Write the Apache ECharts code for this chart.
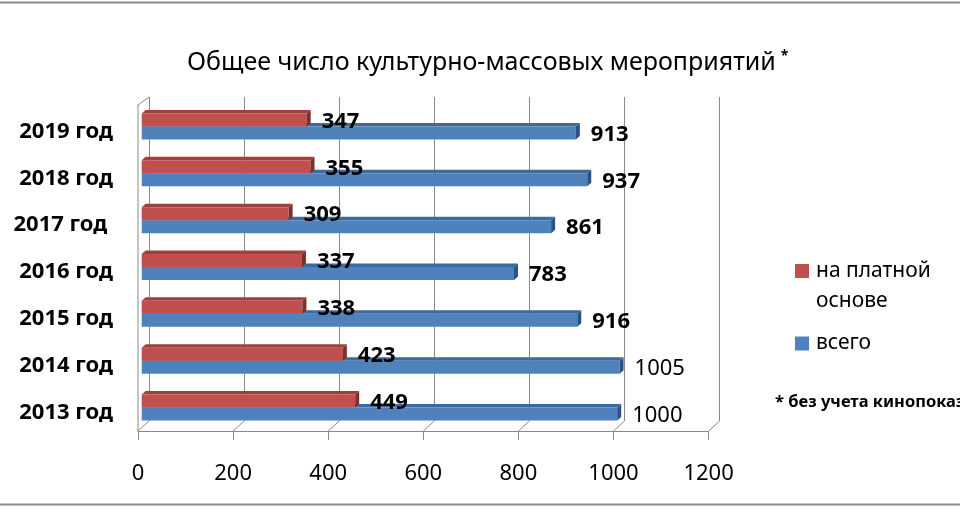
<!DOCTYPE html>
<html>
<head>
<meta charset="utf-8">
<script src="https://cdn.jsdelivr.net/npm/echarts@6/dist/echarts.min.js"></script>
<style>
html,body{margin:0;padding:0;background:#fff;}
#chart{width:960px;height:510px;}
</style>
</head>
<body>
<div id="chart"></div>
<script>
// ---- data ----
const categories = ['2013 год', '2014 год', '2015 год', '2016 год', '2017 год ', '2018 год', '2019 год'];
const paidValues = [449, 423, 338, 337, 309, 355, 347];
const totalValues = [1000, 1005, 916, 783, 861, 937, 913];
const tickValues = [0, 200, 400, 600, 800, 1000, 1200];
const seriesNames = ['на платной основе', 'всего'];
const titleText = 'Общее число культурно-массовых мероприятий';
const footnoteText = '* без учета кинопоказов';

// ---- styles ----
const FONT = 'Noto Sans';
const GRID_COLOR = '#8a8a8a';
const DEPTH_X = 11, DEPTH_Y = 10;
const PLOT_W = 570.6;
const RED = {front: '#C0504D', top: '#A0403D', side: '#7E2F2C'};
const BLUE = {front: '#4F81BD', top: '#3D6A9F', side: '#2C5283'};

const chart = echarts.init(document.getElementById('chart'));

function makeBar(dir, col) {
  return function (params, api) {
    const v = api.value(0), c = api.value(1);
    const p0 = api.coord([0, c]);
    const p1 = api.coord([v, c]);
    const H = 13, D = 4, DY = 3.5;
    const yTop = dir < 0 ? p0[1] - H : p0[1];
    const yBot = yTop + H;
    const x0 = p0[0], x1 = p1[0];
    const bold = v < 1000 || dir < 0;
    return {
      type: 'group',
      children: [
        {type: 'polygon', shape: {points: [[x0, yTop], [x1, yTop], [x1 + D, yTop - DY], [x0 + D, yTop - DY]]},
          style: {fill: col.top}},
        {type: 'rect', shape: {x: x0, y: yTop, width: x1 - x0, height: H}, style: {fill: col.front}},
        {type: 'polygon', shape: {points: [[x1, yTop], [x1 + D, yTop - DY], [x1 + D, yBot - DY], [x1, yBot]]},
          style: {fill: col.side}},
        {type: 'text', z2: 10, style: {
          text: String(v), x: x1 + 15, y: (yTop + yBot) / 2 + 1.5,
          align: 'left', verticalAlign: 'middle',
          font: (bold ? 'bold ' : '') + '22px "' + FONT + '"', fill: '#000'
        }}
      ]
    };
  };
}

function renderFrame(params, api) {
  const v = api.value(0);
  const cs = params.coordSys;
  const bottom = cs.y + cs.height;
  const x = api.coord([v, 0])[0];
  const children = [
    {type: 'line', shape: {x1: x, y1: bottom, x2: x + DEPTH_X, y2: bottom - DEPTH_Y},
      style: {stroke: GRID_COLOR, lineWidth: 1}}
  ];
  if (v === 0) {
    const wallTop = 97;
    children.push({type: 'line', shape: {x1: x, y1: bottom, x2: x, y2: wallTop + DEPTH_Y - 2},
      style: {stroke: GRID_COLOR, lineWidth: 1}});
    children.push({type: 'line', shape: {x1: x, y1: wallTop + DEPTH_Y - 2, x2: x + DEPTH_X, y2: wallTop},
      style: {stroke: GRID_COLOR, lineWidth: 1}});
  }
  return {type: 'group', children: children};
}

const option = {
  backgroundColor: '#fff',
  animation: false,
  title: [
    {
      text: '{m|' + titleText + '} {s|*}',
      left: 182, top: 44,
      textStyle: {
        rich: {
          m: {fontFamily: FONT, fontSize: 25, color: '#000', fontWeight: 'normal'},
          s: {fontFamily: FONT, fontSize: 14, color: '#000', padding: [0, 0, 14, 0]}
        }
      }
    },
    {
      text: footnoteText,
      left: 770, top: 389,
      textStyle: {fontFamily: FONT, fontSize: 16.5, fontWeight: 'bold', color: '#000'}
    }
  ],
  legend: [
    {
      left: 795, top: 256, padding: 0, selectedMode: false,
      itemWidth: 14, itemHeight: 44,
      data: [{name: seriesNames[0], icon: 'path://M0 0H14V14H0Z M0 44H0.01V44.01H0Z'}],
      formatter: function (name) { return name.replace(' основе', '\nоснове'); },
      textStyle: {fontFamily: FONT, fontSize: 21, color: '#000', lineHeight: 30, padding: [0, 0, 0, 2]}
    },
    {
      left: 795, top: 333, padding: 0, selectedMode: false,
      itemWidth: 14, itemHeight: 14,
      data: [{name: seriesNames[1], icon: 'rect'}],
      textStyle: {fontFamily: FONT, fontSize: 21, color: '#000', padding: [0, 0, 0, 2]}
    }
  ],
  grid: [
    {left: 138 + DEPTH_X, top: 97, width: PLOT_W, height: 324},
    {left: 138, top: 103, width: PLOT_W, height: 328},
    {left: 141.7, top: 103, width: PLOT_W, height: 328},
    {left: 138, top: 108, width: PLOT_W, height: 328}
  ],
  xAxis: [
    {gridIndex: 0, type: 'value', min: 0, max: 1200, interval: 200,
      axisLine: {show: false}, axisTick: {show: false}, axisLabel: {show: false},
      splitLine: {show: true, lineStyle: {color: GRID_COLOR, width: 1}}},
    {gridIndex: 1, type: 'value', min: 0, max: 1200, interval: 200,
      axisLine: {show: true, lineStyle: {color: GRID_COLOR, width: 1}},
      axisTick: {show: true, length: 9, lineStyle: {color: GRID_COLOR}},
      axisLabel: {fontFamily: FONT, fontSize: 22, color: '#000', margin: 32,
        formatter: function (v) { return String(v); }},
      splitLine: {show: false}},
    {gridIndex: 2, type: 'value', min: 0, max: 1200, show: false},
    {gridIndex: 3, type: 'value', min: 0, max: 1200, show: false}
  ],
  yAxis: [
    {gridIndex: 0, type: 'category', data: categories, show: false},
    {gridIndex: 1, type: 'category', data: categories, show: false},
    {gridIndex: 2, type: 'category', data: categories, show: false},
    {gridIndex: 3, type: 'category', data: categories,
      axisLine: {show: false}, axisTick: {show: false}, splitLine: {show: false},
      axisLabel: {fontFamily: FONT, fontSize: 22, fontWeight: 'bold', color: '#000', margin: 25}}
  ],
  series: [
    {
      type: 'custom', name: 'frame', xAxisIndex: 1, yAxisIndex: 1, silent: true, z: 1,
      data: tickValues.map(function (v) { return [v, 0]; }),
      renderItem: renderFrame
    },
    {
      type: 'custom', name: seriesNames[1], xAxisIndex: 2, yAxisIndex: 2, z: 2,
      itemStyle: {color: BLUE.front},
      data: totalValues.map(function (v, i) { return [v, i]; }),
      renderItem: makeBar(1, BLUE)
    },
    {
      type: 'custom', name: seriesNames[0], xAxisIndex: 2, yAxisIndex: 2, z: 3,
      itemStyle: {color: RED.front},
      data: paidValues.map(function (v, i) { return [v, i]; }),
      renderItem: makeBar(-1, RED)
    }
  ],
  graphic: [
    {type: 'rect', silent: true, z: 0,
      shape: {x: -10, y: 2.5, width: 980, height: 502},
      style: {fill: 'none', stroke: '#8c8c8c', lineWidth: 2}}
  ]
};

chart.setOption(option);
</script>
</body>
</html>
